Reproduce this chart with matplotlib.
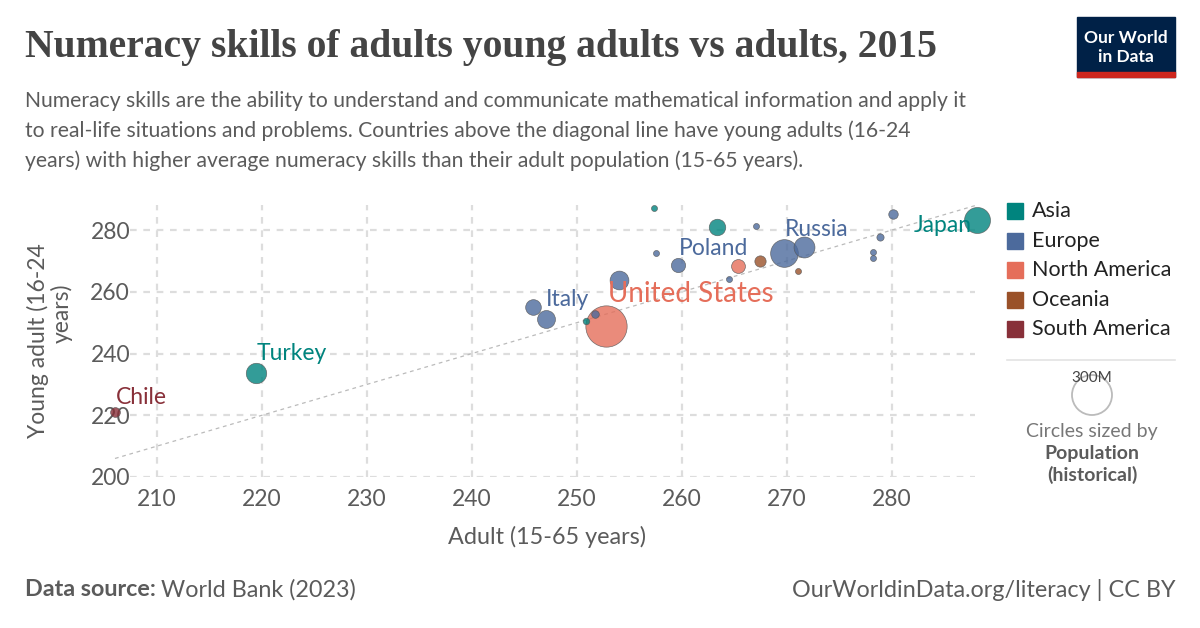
import matplotlib
matplotlib.use("Agg")
import matplotlib.pyplot as plt
import numpy as np

# ---------------------------------------------------------------------------
# DATA
countries = ["Chile", "Turkey", "Spain", "Italy", "Israel", "Greece", "United States",
             "France", "Singapore", "Slovenia", "Poland", "Korea", "Lithuania", "Canada",
             "Estonia", "Australia", "Russia", "Germany", "New Zealand", "Norway",
             "Denmark", "Sweden", "Netherlands", "Japan"]
continents = ["South America", "Asia", "Europe", "Europe", "Asia", "Europe", "North America",
              "Europe", "Asia", "Europe", "Europe", "Asia", "Europe", "North America",
              "Europe", "Oceania", "Europe", "Europe", "Oceania", "Europe",
              "Europe", "Europe", "Europe", "Asia"]
adult = [206.0, 219.4, 245.8, 247.0, 250.9, 251.7, 252.8,
         254.0, 257.3, 257.5, 259.6, 263.3, 264.5, 265.3,
         267.0, 267.4, 269.7, 271.6, 271.0, 278.2,
         278.2, 278.9, 280.1, 288.1]
young = [221.2, 233.6, 255.2, 251.1, 250.6, 252.7, 248.9,
         263.8, 287.0, 272.5, 268.7, 280.9, 264.2, 268.3,
         281.3, 270.0, 272.5, 274.6, 266.6, 273.0,
         271.0, 277.8, 285.2, 283.2]
population_m = [18, 78, 46, 60, 8, 11, 320,
                66, 5.5, 2, 38, 51, 2.9, 36,
                1.3, 24, 144, 82, 4.6, 5.2,
                5.7, 9.8, 17, 127]

legend_names = ["Asia", "Europe", "North America", "Oceania", "South America"]
labelled = ["Chile", "Turkey", "Italy", "United States", "Poland", "Russia", "Japan"]

xticks = [210, 220, 230, 240, 250, 260, 270, 280]
yticks = [200, 220, 240, 260, 280]

# ---------------------------------------------------------------------------
# STYLE
colors = {"Asia": "#00847e", "Europe": "#4c6a9c", "North America": "#e56e5a",
          "Oceania": "#9a5129", "South America": "#883039"}
grey = "#5b5b5b"
W, H = 1200, 628


def fx(x):
    return x / W


def fy(y):
    return 1 - y / H


def radius_px(pop):
    # 300M circle has a 20 px radius in the size legend
    return max(20 * np.sqrt(pop / 300.0), 3.0)


plt.rcParams['font.family'] = ['Lato', 'DejaVu Sans']

fig = plt.figure(figsize=(12, 6.28), dpi=100)
ax = fig.add_axes([fx(130), fy(477), fx(975) - fx(130), fy(205) - fy(477)])
ax.set_xlim(207.43, 287.9)
ax.set_ylim(200, 288.1)
for s in ax.spines.values():
    s.set_visible(False)

ax.set_xticks(xticks)
ax.set_yticks(yticks)
ax.grid(True, color="#dddddd", linestyle=(0, (3, 3)), linewidth=1.6)
ax.set_axisbelow(True)
ax.tick_params(length=0, labelsize=16.5, labelcolor=grey, pad=9)
ax.tick_params(axis="y", pad=0)

# diagonal y = x
diag = np.array([206.0, 288.0])
ax.plot(diag, diag, color="#bbbbbb", linestyle=(0, (3, 3)), linewidth=0.9,
        clip_on=False, zorder=1)

# bubbles, largest first so that small ones lie on top
order = np.argsort(population_m)[::-1]
for i in order:
    r = radius_px(population_m[i]) * 0.72
    ax.scatter(adult[i], young[i], s=(2 * r) ** 2, color=colors[continents[i]],
               alpha=0.8, edgecolors="#555555", linewidths=0.5, clip_on=False, zorder=3)

# country labels: offsets in points from the bubble centre
label_offsets = {"Chile": (1, 10, "left", 16.5), "Turkey": (1, 14, "left", 16.5),
                 "Italy": (0, 14, "left", 16.5), "United States": (1, 23, "left", 20),
                 "Poland": (1, 12, "left", 16.5), "Russia": (1, 17, "left", 16.5),
                 "Japan": (-4, -4, "right", 16.5)}
for name in labelled:
    i = countries.index(name)
    dx, dy, ha, fs = label_offsets[name]
    ax.annotate(name, (adult[i], young[i]), xytext=(dx, dy), textcoords="offset points",
                ha=ha, va="center", fontsize=fs, color=colors[continents[i]], zorder=4,
                annotation_clip=False)

# axis titles
fig.text(fx(547), fy(537), "Adult (15-65 years)", ha="center", va="center",
         fontsize=16.8, color=grey)
fig.text(fx(38), fy(341), "Young adult (16-24", rotation=90, ha="center", va="center",
         fontsize=16.5, color=grey)
fig.text(fx(62), fy(313), "years)", rotation=90, ha="center", va="center",
         fontsize=16.5, color=grey)

# title and subtitle
fig.text(fx(25), fy(47), "Numeracy skills of adults young adults vs adults, 2015",
         ha="left", va="center", fontsize=28.5, color="#444444",
         family=["Liberation Serif", "DejaVu Serif"], weight="bold")
subtitle = ["Numeracy skills are the ability to understand and communicate mathematical information and apply it",
            "to real-life situations and problems. Countries above the diagonal line have young adults (16-24",
            "years) with higher average numeracy skills than their adult population (15-65 years)."]
for k, line in enumerate(subtitle):
    fig.text(fx(25), fy(101 + 30 * k), line, ha="left", va="center", fontsize=15.25, color=grey)

# logo
fig.patches.append(plt.Rectangle((fx(1077), fy(77)), fx(98), fy(17) - fy(77),
                                 transform=fig.transFigure, color="#002147"))
fig.patches.append(plt.Rectangle((fx(1077), fy(77)), fx(98), fy(72) - fy(77),
                                 transform=fig.transFigure, color="#ce261e"))
fig.text(fx(1126), fy(38), "Our World", ha="center", va="center", fontsize=12.5,
         color="white", weight="bold")
fig.text(fx(1126), fy(57), "in Data", ha="center", va="center", fontsize=12.5,
         color="white", weight="bold")

# colour legend
for k, name in enumerate(legend_names):
    yy = 211 + 29.5 * k
    fig.patches.append(plt.Rectangle((fx(1007), fy(yy + 8)), fx(16), fy(yy - 8) - fy(yy + 8),
                                     transform=fig.transFigure, color=colors[name]))
    fig.text(fx(1032), fy(yy), name, ha="left", va="center", fontsize=15.5, color="#222222")

fig.add_artist(plt.Line2D([fx(1007), fx(1175)], [fy(360), fy(360)], color="#e3e3e3",
                          linewidth=1.2, transform=fig.transFigure))
# size legend
fig.text(fx(1092), fy(378), "300M", ha="center", va="center", fontsize=11, color="#444444")
circ = matplotlib.patches.Ellipse((fx(1092), fy(395)), fx(40), 40 / H, fill=False,
                                  edgecolor="#bbbbbb", linewidth=1.3, transform=fig.transFigure)
fig.patches.append(circ)
fig.text(fx(1092), fy(431), "Circles sized by", ha="center", va="center", fontsize=14,
         color="#777777")
fig.text(fx(1092), fy(453), "Population", ha="center", va="center", fontsize=14,
         color=grey, weight="bold")
fig.text(fx(1092), fy(475), "(historical)", ha="center", va="center", fontsize=14,
         color=grey, weight="bold")

# footer
t = fig.text(fx(25), fy(590), "Data source:", ha="left", va="center", fontsize=16.8,
             color=grey, weight="bold")
fig.canvas.draw()
bb = t.get_window_extent()
fig.text(bb.x1 / W + fx(5), fy(590), "World Bank (2023)", ha="left", va="center",
         fontsize=16.8, color=grey)
fig.text(fx(1175), fy(590), "OurWorldinData.org/literacy | CC BY", ha="right", va="center",
         fontsize=16.8, color=grey)

fig.savefig("out.png", dpi=100)
